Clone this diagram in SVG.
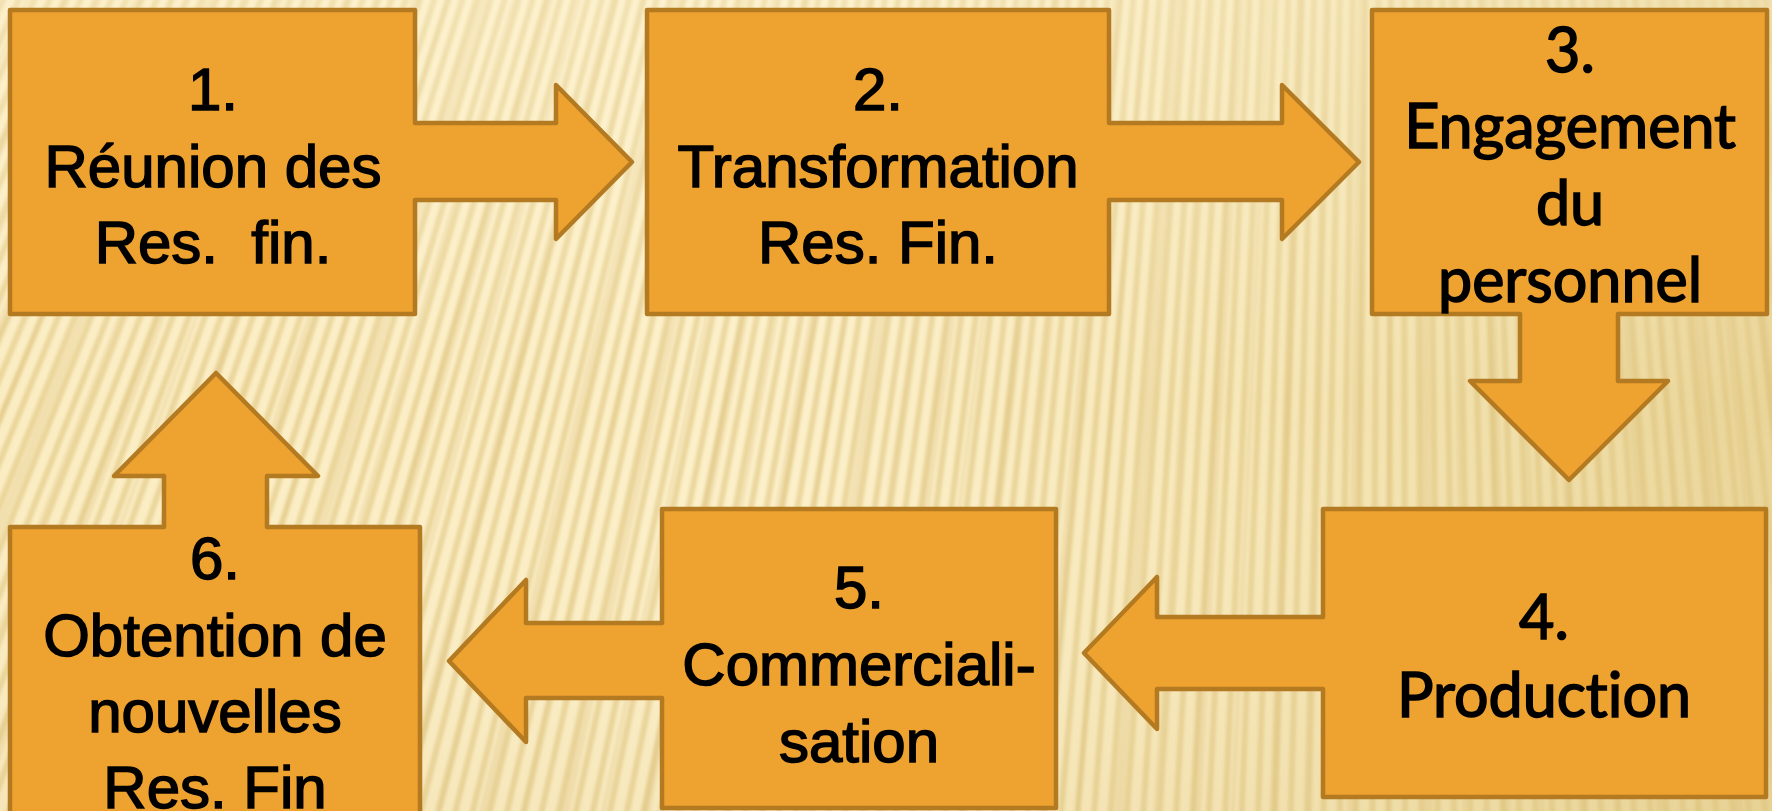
<svg xmlns="http://www.w3.org/2000/svg" width="1772" height="811" viewBox="0 0 1772 811">
  <style>
    .shape { fill: #EEA22F; stroke: #B47A22; stroke-width: 4.5; stroke-linejoin: round; }
    .lbl { font-family: "Liberation Sans", Arial, sans-serif; font-size: 60px; fill: #000; stroke: #000; stroke-width: 1.5; text-anchor: middle; }
    .lbl2 { font-family: Lato, "Open Sans", sans-serif; font-size: 61px; fill: #000; stroke: #000; stroke-width: 1.6; text-anchor: middle; font-variant-ligatures: none; font-feature-settings: "liga" 0; }
  </style>
  <defs>
    <linearGradient id="bg" x1="0" y1="0" x2="1" y2="0">
      <stop offset="0" stop-color="#FBEDC3"/>
      <stop offset="0.45" stop-color="#FCF0CA"/>
      <stop offset="0.7" stop-color="#F7E8BA"/>
      <stop offset="0.85" stop-color="#F0DFA9"/>
      <stop offset="1" stop-color="#EAD599"/>
    </linearGradient>
    <linearGradient id="shade" x1="0" y1="0" x2="0" y2="1">
      <stop offset="0" stop-color="#FFF6D8" stop-opacity="0.35"/>
      <stop offset="0.5" stop-color="#FFF6D8" stop-opacity="0"/>
      <stop offset="1" stop-color="#D9BE7A" stop-opacity="0.15"/>
    </linearGradient>
    <filter id="soft" filterUnits="userSpaceOnUse" x="0" y="0" width="1772" height="811">
      <feGaussianBlur stdDeviation="1.8"/>
    </filter>
  </defs>

  <!-- straw-textured backdrop: radial stripes fanning out from a point above the page -->
  <g id="background">
    <rect x="0" y="0" width="1772" height="811" fill="url(#bg)"/>
    <g filter="url(#soft)">
      <circle cx="1400" cy="-3000" r="3500" fill="none" stroke="#E0C57F" stroke-opacity="0.6" stroke-width="1300" stroke-dasharray="6 9"/>
      <circle cx="1400" cy="-3000" r="3500" fill="none" stroke="#D6B86C" stroke-opacity="0.25" stroke-width="1300" stroke-dasharray="9 31 4 27"/>
    </g>
    <rect x="0" y="0" width="1772" height="811" fill="url(#shade)"/>
  </g>

  <!-- each step: a box with its outgoing arrow drawn as one callout outline -->
  <g id="connectors">
    <!-- arrows are part of the callout outlines below -->
  </g>

  <g id="node1">
    <path class="shape" d="M10,10 H415 V123 H556 V85 L632,162 L556,239 V200 H415 V314 H10 Z"/>
    <text class="lbl" x="213" y="110">1.</text>
    <text class="lbl" x="213" y="187">Réunion des</text>
    <text class="lbl" x="213" y="263" xml:space="preserve">Res.  fin.</text>
  </g>

  <g id="node2">
    <path class="shape" d="M647,10 H1109 V123 H1282 V85 L1359,162 L1282,239 V200 H1109 V314 H647 Z"/>
    <text class="lbl" x="878" y="110">2.</text>
    <text class="lbl" x="878" y="187">Transformation</text>
    <text class="lbl" x="878" y="263">Res. Fin.</text>
  </g>

  <g id="node3">
    <path class="shape" d="M1372,10 H1767 V314 H1618 V381 H1668 L1569,480 L1470,381 H1520 V314 H1372 Z"/>
    <text class="lbl2" x="1570" y="72">3.</text>
    <text class="lbl2" x="1570" y="148">Engagement</text>
    <text class="lbl2" x="1570" y="225">du</text>
    <text class="lbl2" x="1570" y="302">personnel</text>
  </g>

  <g id="node4">
    <path class="shape" d="M1323,509 H1766 V797 H1323 V689 H1157 V729 L1084,653 L1157,577 V617 H1323 Z"/>
    <text class="lbl2" x="1544" y="639">4.</text>
    <text class="lbl2" x="1544" y="717">Production</text>
  </g>

  <g id="node5">
    <path class="shape" d="M662,509 H1056 V808 H662 V698 H526 V742 L449,661 L526,580 V623 H662 Z"/>
    <text class="lbl" x="859" y="608">5.</text>
    <text class="lbl" x="859" y="685">Commerciali-</text>
    <text class="lbl" x="859" y="762">sation</text>
  </g>

  <g id="node6">
    <path class="shape" d="M10,527 H164 V476 H114 L216,373 L318,476 H267 V527 H420 V830 H10 Z"/>
    <text class="lbl" x="215" y="579">6.</text>
    <text class="lbl" x="215" y="656">Obtention de</text>
    <text class="lbl" x="215" y="732">nouvelles</text>
    <text class="lbl" x="215" y="808">Res. Fin</text>
  </g>
</svg>
